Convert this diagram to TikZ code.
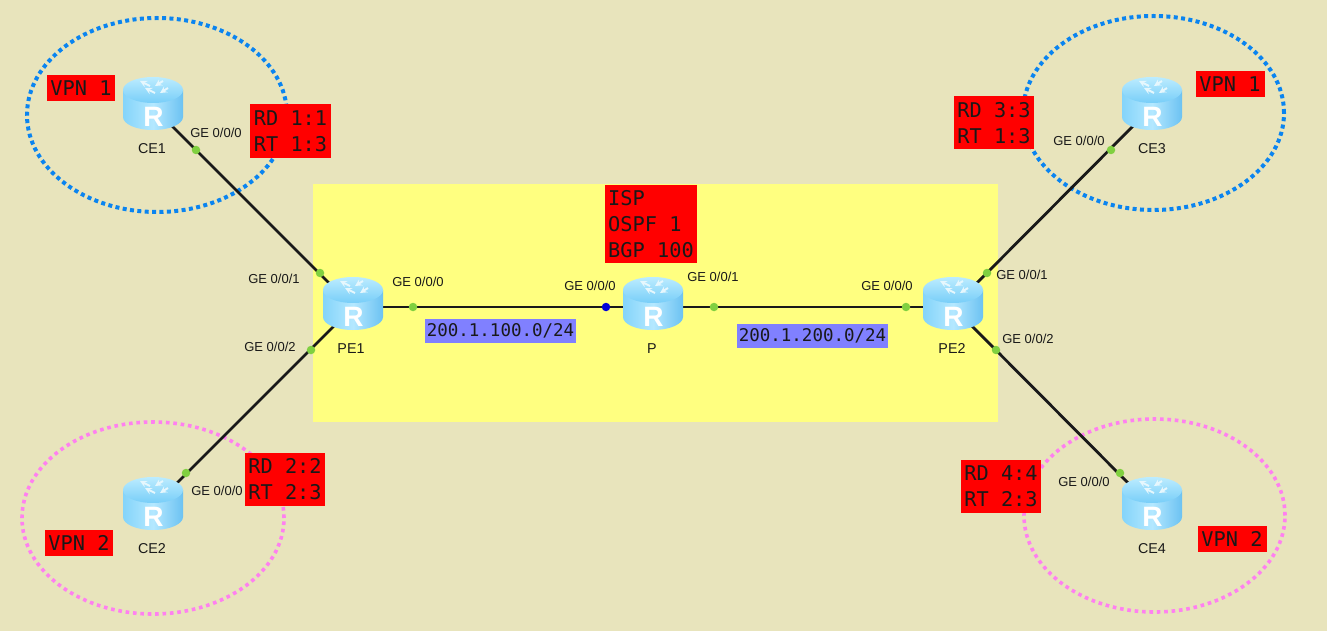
\documentclass[tikz,border=0pt]{standalone}
\usepackage{fontspec}
\setmainfont{Liberation Sans}
\newfontfamily\labelmono{DejaVu Sans Mono}
\definecolor{bgcolor}{HTML}{E8E4BC}
\definecolor{ispcolor}{HTML}{FFFF80}
\definecolor{netcolor}{HTML}{8080FF}
\definecolor{vpnblue}{HTML}{0A84F0}
\definecolor{vpnpink}{HTML}{FF80F0}
\definecolor{dotgreen}{HTML}{80D040}
\definecolor{bodyside}{HTML}{84D4FA}
\definecolor{bodyedge}{HTML}{6CC2F2}
\definecolor{bodymid}{HTML}{B4E8FF}
\definecolor{toplight}{HTML}{BCECFF}
\definecolor{topdark}{HTML}{78CEF8}
\tikzset{
  routernode/.style={inner sep=0pt, minimum size=1pt},
  portdot/.style={circle, fill=dotgreen, inner sep=0pt, minimum size=8.5pt},
  link/.style={line width=2.8pt, draw=black!90},
  port/.style={font=\fontsize{13}{15}\selectfont, inner sep=0pt, text=black!90},
  devname/.style={font=\fontsize{14.3}{15}\selectfont, inner sep=0pt, text=black!90},
  tag/.style={fill=red, inner sep=0pt, align=left, text=black!90,
    font=\labelmono\fontsize{20.3}{26}\selectfont},
  nettag/.style={fill=netcolor, inner sep=0pt, text=black!90,
    font=\labelmono\fontsize{17.5}{20}\selectfont},
  vpnblueline/.style={draw=vpnblue, line width=4pt, dash pattern=on 4pt off 3.4pt},
  vpnpinkline/.style={draw=vpnpink, line width=3.6pt, dash pattern=on 3.6pt off 3.8pt},
  routerpic/.pic={
    \path[left color=bodyside, right color=bodyedge, middle color=bodymid]
      (-30,-17) -- (-30,10) .. controls (-30,17) and (-17,23) .. (0,23)
      .. controls (17,23) and (30,17) .. (30,10) -- (30,-17) -- cycle;
    \path[top color=toplight, bottom color=topdark] (0,-17) ellipse [x radius=30pt, y radius=13pt];
    \foreach \p/\q in {-3/-21,2/-14} {
      \draw[white!90!cyan, line width=2pt, ->, >=stealth] (\p,\q) -- (\p-10,\q-5);
      \draw[white!90!cyan, line width=2pt, ->, >=stealth] (\p+13,\q-5) -- (\p+5,\q);
    }
    \node[text=white, inner sep=0pt, font=\bfseries\fontsize{28}{28}\selectfont] (-mark) at (0.5,10) {R};
  }
}
\begin{document}
\begin{tikzpicture}[x=1pt, y=-1pt]
  \fill[bgcolor] (0,0) rectangle (1327,631);
  \useasboundingbox (0,0) rectangle (1327,631);
  \fill[ispcolor] (313,184) rectangle (998,422);
  % vpn areas
  \draw[vpnblueline] (157,115) ellipse [x radius=130pt, y radius=97pt];
  \draw[vpnblueline] (1153.5,113) ellipse [x radius=130.5pt, y radius=97pt];
  \draw[vpnpinkline] (153,518) ellipse [x radius=131pt, y radius=96pt];
  \draw[vpnpinkline] (1154.5,515.5) ellipse [x radius=130.5pt, y radius=96.5pt];
  % routers
  \foreach \name/\x/\y in {CE1/153/107,CE2/153/507,CE3/1152/107,CE4/1152/507,PE1/353/307,P/653/307,PE2/953/307} {
    \node[routernode] (\name) at (\x,\y) {};
  }
  \draw[link] (CE1) -- (PE1);
  \draw[link] (CE2) -- (PE1);
  \draw[link] (CE3) -- (PE2);
  \draw[link] (CE4) -- (PE2);
  \draw[link] (PE1) -- (P);
  \draw[link] (P) -- (PE2);
  \foreach \name in {CE1,CE2,CE3,CE4,PE1,P,PE2} {
    \pic (\name icon) at (\name) {routerpic};
  }
  % port dots
  \foreach \i/\x/\y in {1/196/150,2/320/273,3/311/350,4/186/473,5/413/307,7/714/307,8/906/307,9/987/273,10/1111/150,11/996/350,12/1120/473} {
    \node[portdot] (D\i) at (\x,\y) {};
  }
  \node[portdot, fill=blue!85!black] (D6) at (606,307) {};
  % port labels
  \foreach \i/\x/\y/\t in {1/216/133/{GE 0/0/0},2/274/279/{GE 0/0/1},3/270/347/{GE 0/0/2},4/217/491/{GE 0/0/0},
    5/418/282/{GE 0/0/0},6/590/286/{GE 0/0/0},7/713/277/{GE 0/0/1},8/887/286/{GE 0/0/0},
    9/1022/275/{GE 0/0/1},10/1079/141/{GE 0/0/0},11/1028/339/{GE 0/0/2},12/1084/482/{GE 0/0/0}} {
    \node[port] (L\i) at (\x,\y) {\t};
  }
  % router names
  \foreach \n/\x/\y/\t in {a/152/149/CE1,b/152/549/CE2,c/1152/149/CE3,d/1152/549/CE4,e/351/349/PE1,f/652/349/P,g/952/349/PE2} {
    \node[devname] (name\n) at (\x,\y) {\t};
  }
  % red tags
  \node[tag, minimum width=68pt, minimum height=26pt] (vpna) at (81,88) {VPN 1};
  \node[tag, minimum width=69pt, minimum height=26pt] (vpnc) at (1230,84) {VPN 1};
  \node[tag, minimum width=68pt, minimum height=26pt] (vpnb) at (79,543) {VPN 2};
  \node[tag, minimum width=69pt, minimum height=26pt] (vpnd) at (1232,539) {VPN 2};
  \node[tag, minimum width=81pt, minimum height=54pt] (rda) at (290.5,131) {RD 1:1\\RT 1:3};
  \node[tag, minimum width=80pt, minimum height=53pt] (rdb) at (285,479.5) {RD 2:2\\RT 2:3};
  \node[tag, minimum width=80pt, minimum height=53pt] (rdc) at (994,123) {RD 3:3\\RT 1:3};
  \node[tag, minimum width=80pt, minimum height=53pt] (rdd) at (1001,486) {RD 4:4\\RT 2:3};
  \node[tag, minimum width=92pt, minimum height=78pt] (isp) at (651,224) {ISP\\OSPF 1\\BGP 100};
  % networks
  \node[nettag, minimum width=151pt, minimum height=24pt] (neta) at (500.5,331) {200.1.100.0/24};
  \node[nettag, minimum width=151pt, minimum height=24pt] (netb) at (812.5,336) {200.1.200.0/24};
\end{tikzpicture}
\end{document}
